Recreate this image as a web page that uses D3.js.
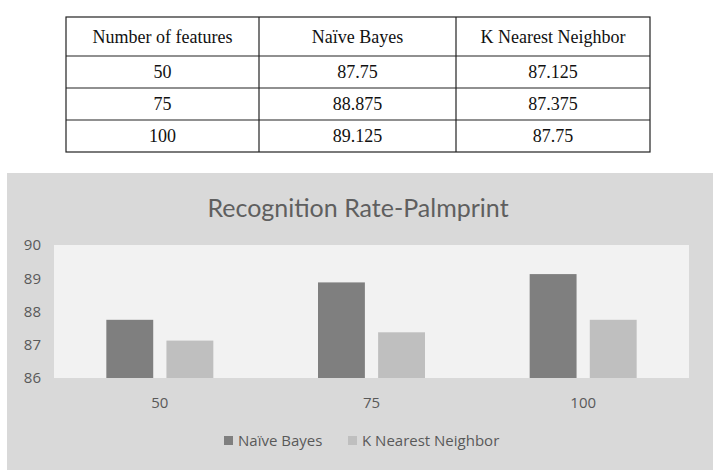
<!DOCTYPE html>
<html>
<head>
    <meta charset="utf-8" />
    <title>Recognition Rate-Palmprint</title>
    <script src="https://d3js.org/d3.v7.min.js"></script>
    <style>
        body { margin: 0; background: #ffffff; }
    </style>
</head>
<body>
    <script type="text/javascript">
        // data
        var features = ['50', '75', '100'];
        var naiveBayes = [87.75, 88.875, 89.125];
        var knn = [87.125, 87.375, 87.75];
        var tableHeader = ['Number of features', 'Naïve Bayes', 'K Nearest Neighbor'];
        var seriesNames = ['Naïve Bayes', 'K Nearest Neighbor'];
        var yTicks = [86, 87, 88, 89, 90];

        var width = 728, height = 476;
        var svg = d3.select('body').append('svg')
            .attr('width', width)
            .attr('height', height);

        // ---- table ----
        var colEdges = [66, 259, 456, 650];
        var rowEdges = [17, 56, 88, 120, 152];
        var rows = [tableHeader].concat(features.map(function (f, i) {
            return [f, String(naiveBayes[i]), String(knn[i])];
        }));

        var table = svg.append('g');
        table.append('rect')
            .attr('x', colEdges[0]).attr('y', rowEdges[0])
            .attr('width', colEdges[3] - colEdges[0])
            .attr('height', rowEdges[4] - rowEdges[0])
            .attr('fill', '#fff').attr('stroke', '#222').attr('stroke-width', 1.2);
        colEdges.slice(1, 3).forEach(function (x) {
            table.append('line')
                .attr('x1', x).attr('x2', x)
                .attr('y1', rowEdges[0]).attr('y2', rowEdges[4])
                .attr('stroke', '#222').attr('stroke-width', 1.2);
        });
        rowEdges.slice(1, 4).forEach(function (y) {
            table.append('line')
                .attr('x1', colEdges[0]).attr('x2', colEdges[3])
                .attr('y1', y).attr('y2', y)
                .attr('stroke', '#222').attr('stroke-width', 1.2);
        });
        rows.forEach(function (r, ri) {
            r.forEach(function (txt, ci) {
                table.append('text')
                    .attr('x', (colEdges[ci] + colEdges[ci + 1]) / 2)
                    .attr('y', (rowEdges[ri] + rowEdges[ri + 1]) / 2)
                    .attr('dy', '0.35em')
                    .attr('text-anchor', 'middle')
                    .style('font-family', '"Liberation Serif", "Times New Roman", serif')
                    .style('font-size', '18px')
                    .attr('fill', '#111')
                    .text(txt);
            });
        });

        // ---- chart ----
        var chart = svg.append('g');
        chart.append('rect')
            .attr('x', 7).attr('y', 173)
            .attr('width', 706).attr('height', 297)
            .attr('fill', '#d9d9d9');

        chart.append('text')
            .attr('x', 358).attr('y', 217)
            .attr('text-anchor', 'middle')
            .style('font-family', 'Lato, sans-serif')
            .style('font-size', '25px')
            .attr('fill', '#5f5f5f')
            .text('Recognition Rate-Palmprint');

        var plot = { left: 54, right: 689, top: 245, bottom: 378 };

        chart.append('rect')
            .attr('x', plot.left).attr('y', plot.top)
            .attr('width', plot.right - plot.left)
            .attr('height', plot.bottom - plot.top)
            .attr('fill', '#f2f2f2');

        var x = d3.scaleBand().domain(features).range([plot.left, plot.right]);
        var x1 = d3.scaleBand().domain(seriesNames)
            .range([x.bandwidth() / 2 - 53.5, x.bandwidth() / 2 + 53.5])
            .paddingInner(0.22);
        var y = d3.scaleLinear().domain([86, 90]).range([plot.bottom, plot.top]);
        var colors = d3.scaleOrdinal().domain(seriesNames).range(['#7f7f7f', '#bfbfbf']);

        var data = features.map(function (f, i) {
            return { f: f, vals: [{ s: seriesNames[0], v: naiveBayes[i] }, { s: seriesNames[1], v: knn[i] }] };
        });

        var groups = chart.selectAll('.grp').data(data).enter().append('g')
            .attr('class', 'grp')
            .attr('transform', function (d) { return 'translate(' + x(d.f) + ',0)'; });
        groups.selectAll('rect').data(function (d) { return d.vals; }).enter().append('rect')
            .attr('x', function (d) { return x1(d.s); })
            .attr('width', x1.bandwidth())
            .attr('y', function (d) { return y(d.v); })
            .attr('height', function (d) { return plot.bottom - y(d.v); })
            .attr('fill', function (d) { return colors(d.s); });

        var yAxis = chart.append('g')
            .attr('transform', 'translate(' + 41 + ',0)')
            .call(d3.axisLeft(y).tickValues(yTicks).tickSize(0).tickPadding(0).tickFormat(d3.format('d')));
        yAxis.select('.domain').remove();
        yAxis.selectAll('text')
            .style('font-family', '"Open Sans", sans-serif')
            .style('font-size', '15px')
            .attr('fill', '#595959');

        var xAxis = chart.append('g')
            .attr('transform', 'translate(0,' + plot.bottom + ')')
            .call(d3.axisBottom(x).tickSize(0).tickPadding(19.5));
        xAxis.select('.domain').remove();
        xAxis.selectAll('text')
            .style('font-family', '"Open Sans", sans-serif')
            .style('font-size', '15px')
            .attr('fill', '#595959');

        // legend
        var legendX = [224, 348];
        seriesNames.forEach(function (s, i) {
            var lg = chart.append('g').attr('transform', 'translate(' + legendX[i] + ',441)');
            lg.append('rect')
                .attr('x', 0).attr('y', -5)
                .attr('width', 9).attr('height', 9)
                .attr('fill', colors(s));
            lg.append('text')
                .attr('x', 14).attr('dy', '0.35em')
                .style('font-family', '"Open Sans", sans-serif')
                .style('font-size', '15px')
                .attr('fill', '#595959')
                .text(s);
        });
    </script>
</body>
</html>
